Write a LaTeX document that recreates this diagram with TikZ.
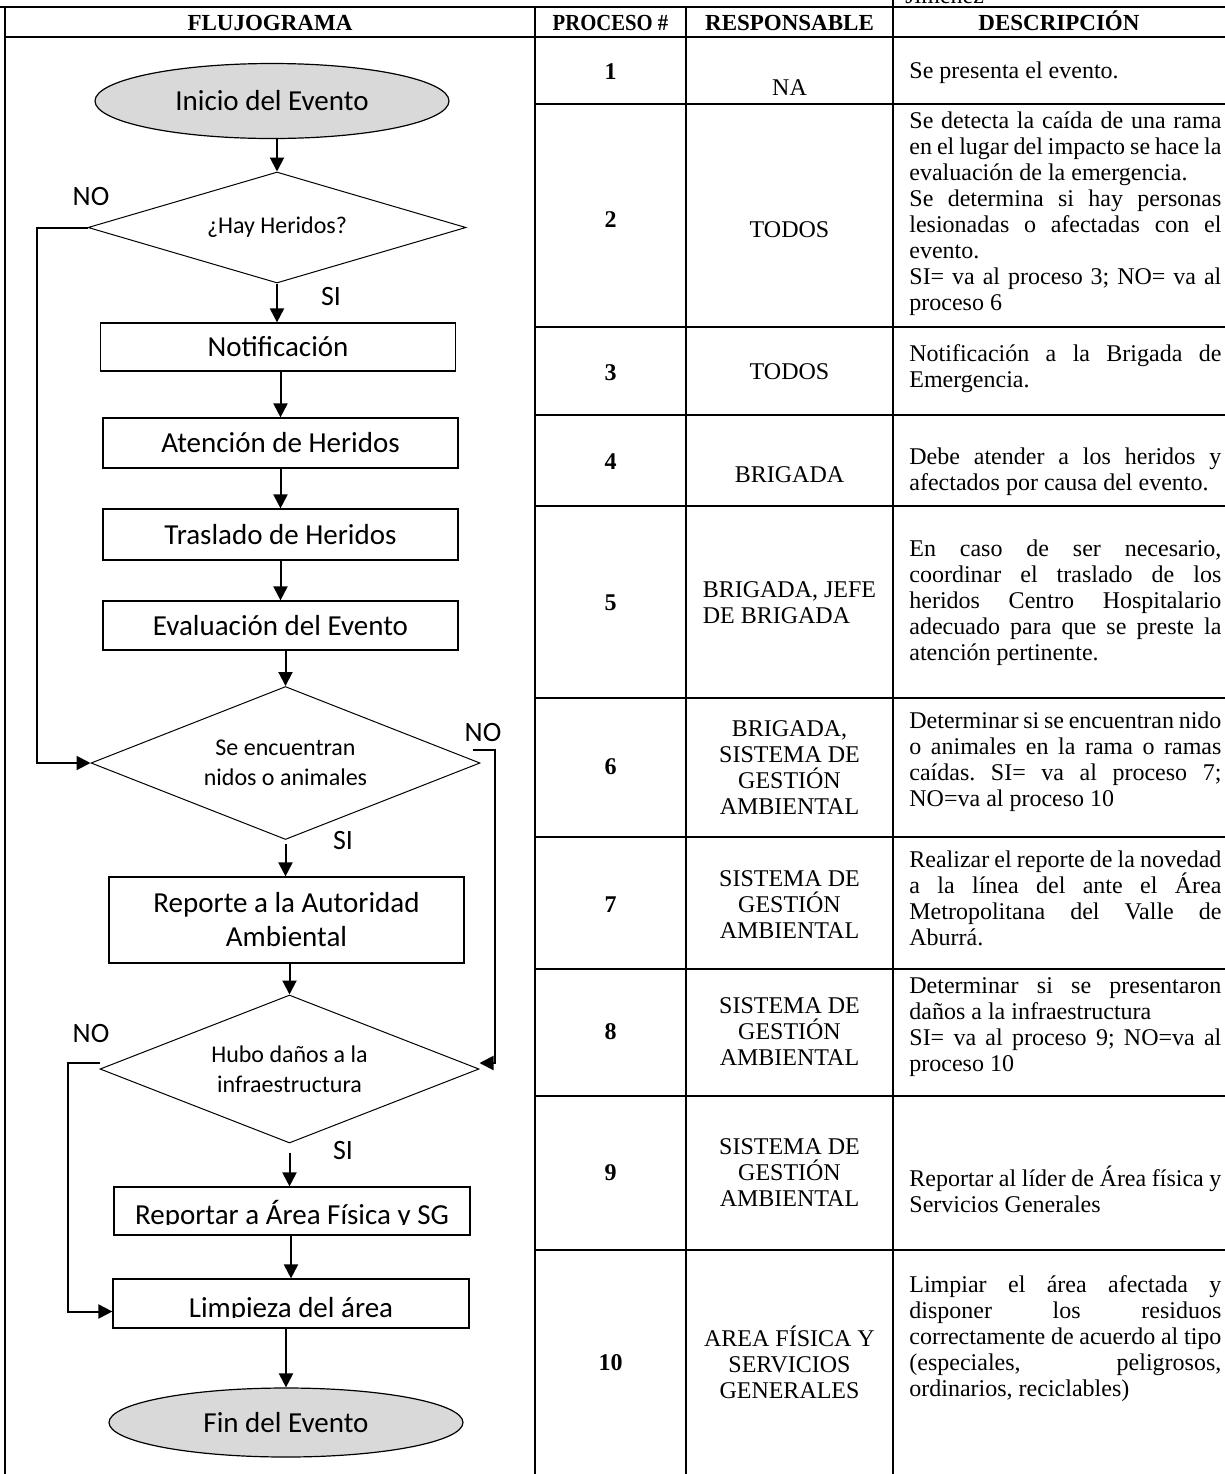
\documentclass[tikz,border=0pt]{standalone}
\usepackage{fontspec}
\setmainfont{Liberation Serif}
\newfontfamily\calibri{Carlito}
\usetikzlibrary{shapes.geometric,arrows.meta}
\definecolor{grisclaro}{RGB}{217,217,217}
\tolerance=10000
\hbadness=10000
\frenchspacing
\tikzset{
  linea/.style={line width=1pt},
  caja/.style={draw, line width=0.6pt, rectangle, minimum width=177.5pt, inner sep=0pt, align=center, font=\calibri\fontsize{14.5}{17}\selectfont},
  terminal/.style={draw, ellipse, fill=grisclaro, line width=0.6pt, minimum width=177pt, font=\calibri\fontsize{14.5}{17}\selectfont},
  decision/.style={draw, diamond, aspect=3.4, inner sep=0pt, line width=0.5pt, align=center, font=\calibri\fontsize{12}{15}\selectfont},
  flecha/.style={-{Triangle[length=7pt,width=7pt]}, line width=1pt},
  etiqueta/.style={font=\calibri\fontsize{14}{16}\selectfont},
  titulo/.style={anchor=base, font=\bfseries\fontsize{11.5}{13}\selectfont},
  num/.style={font=\bfseries\fontsize{12}{13}\selectfont},
  resp/.style={align=center, font=\fontsize{12}{13}\selectfont},
  desc/.style={anchor=west, text width=156pt, align=justify, inner sep=0pt, font=\fontsize{12}{13}\selectfont},
  cortado/.style={caja, path picture={
    \clip ([yshift=5.5pt]path picture bounding box.south west) rectangle (path picture bounding box.north east);
    \node[anchor=base, inner sep=0pt, font=\calibri\fontsize{14.5}{17}\selectfont] at ([yshift=5.5pt]path picture bounding box.south) {#1};}}
}
\begin{document}
\begin{tikzpicture}[x=0.5pt,y=-0.5pt]
\useasboundingbox (0,0) rectangle (1225,1474);
\draw [linea] (0,7)--(1225,7);
\draw [linea] (5,37)--(1225,37);
\draw [linea] (5,7)--(5,1474);
\draw [linea] (535,7)--(535,1474);
\draw [linea] (686,7)--(686,1474);
\draw [linea] (893,0)--(893,1474);
\foreach \y in {104,327,415,506,698,837,969,1096,1250} {\draw [linea] (535,\y)--(1225,\y);}
\node[anchor=base west, inner sep=0pt, font=\fontsize{12}{13}\selectfont] (autor) at (905,3) {Jiménez};

\node[titulo] (hFlujo) at (270,30) {FLUJOGRAMA};
\node[titulo] (hProc) at (610.5,30) {\scalebox{0.9}[1]{PROCESO \#}};
\node[titulo] (hResp) at (789.5,30) {RESPONSABLE};
\node[titulo] (hDesc) at (1059,30) {DESCRIPCIÓN};

\foreach \n/\y in {1/72,2/220,3/373,4/462,5/603,6/767,7/905,8/1032,9/1173,10/1363} {\node[num] (p\n) at (610.5,\y) {\n};}

\node[resp] (r1) at (789.5,88) {NA};
\node[resp] (r2) at (789.5,230) {TODOS};
\node[resp] (r3) at (789.5,372) {TODOS};
\node[resp] (r4) at (789.5,475) {BRIGADA};
\node[resp, align=left] (r5) at (789.5,603) {BRIGADA, JEFE\\DE BRIGADA};
\node[resp] (r6) at (789.5,768) {BRIGADA,\\SISTEMA DE\\GESTIÓN\\AMBIENTAL};
\foreach \n/\y in {7/905,8/1032,9/1173} {\node[resp] (r\n) at (789.5,\y) {SISTEMA DE\\GESTIÓN\\AMBIENTAL};}
\node[resp] (r10) at (789.5,1362) {AREA FÍSICA Y\\SERVICIOS\\GENERALES};

\node[desc] (d1) at (909,73) {Se presenta el evento.};
\node[desc] (d2) at (909,214) {Se detecta la caída de una rama\linebreak en el lugar del impacto se hace la\linebreak evaluación de la emergencia.\\Se determina si hay personas\linebreak lesionadas o afectadas con el\linebreak evento.\\SI= va al proceso 3; NO= va al\linebreak proceso 6};
\node[desc] (d3) at (909,369) {Notificación a la Brigada de\linebreak Emergencia.};
\node[desc] (d4) at (909,472) {Debe atender a los heridos y\linebreak afectados por causa del evento.};
\node[desc] (d5) at (909,603) {En caso de ser necesario,\linebreak coordinar el traslado de los\linebreak heridos Centro Hospitalario\linebreak adecuado para que se preste la\linebreak atención pertinente.};
\node[desc] (d6) at (909,762) {Determinar si se encuentran nido\linebreak o animales en la rama o ramas\linebreak caídas. SI= va al proceso 7;\linebreak NO=va al proceso 10};
\node[desc] (d7) at (909,898) {Realizar el reporte de la novedad\linebreak a la línea del ante el Área\linebreak Metropolitana del Valle de\linebreak Aburrá.};
\node[desc] (d8) at (909,1027) {Determinar si se presentaron\linebreak daños a la infraestructura\\SI= va al proceso 9; NO=va al\linebreak proceso 10};
\node[desc] (d9) at (909,1189) {Reportar al líder de Área física y\linebreak Servicios Generales};
\node[desc] (d10) at (909,1339) {Limpiar el área afectada y\linebreak disponer los residuos\linebreak correctamente de acuerdo al tipo\linebreak (especiales, peligrosos,\linebreak ordinarios, reciclables)};

\node[terminal, minimum height=37.5pt] (inicio) at (272,101) {Inicio del Evento};
\node[decision, minimum width=189pt, minimum height=55.5pt] (dgA) at (277,227.5) {¿Hay Heridos?};
\node[caja, minimum height=24pt] (notif) at (278,347) {Notificación};
\node[caja, minimum height=25pt] (atenc) at (280.5,443) {Atención de Heridos};
\node[caja, minimum height=25.5pt] (trasl) at (280.5,534.5) {Traslado de Heridos};
\node[caja, minimum height=24.5pt] (evalu) at (280.5,625.5) {Evaluación del Evento};
\node[decision, minimum width=194.5pt, minimum height=76.5pt] (dgB) at (285.5,763) {Se encuentran\\nidos o animales};
\node[caja, minimum height=43pt] (repAut) at (286.5,920) {Reporte a la Autoridad\\Ambiental};
\node[decision, minimum width=189.5pt, minimum height=74pt] (dgC) at (289.5,1069) {Hubo daños a la\\infraestructura};
\node[cortado={Reportar a Área Física y SG}, minimum width=178pt, minimum height=24pt] (repArea) at (292,1211) {};
\node[cortado={Limpieza del área}, minimum width=178pt, minimum height=24.5pt] (limp) at (291,1303.5) {};
\node[terminal, minimum height=34.5pt] (fin) at (286,1422.5) {Fin del Evento};

\node[etiqueta] (noA) at (91,197) {NO};
\node[etiqueta] (siA) at (331,297) {SI};
\node[etiqueta] (noB) at (483,732) {NO};
\node[etiqueta] (siB) at (343,840) {SI};
\node[etiqueta] (noC) at (91,1033) {NO};
\node[etiqueta] (siC) at (343,1150) {SI};

\coordinate (izqA) at (37,0);
\coordinate (derB) at (495,0);
\coordinate (izqC) at (68,0);
\draw [flecha] (inicio.south -| dgA.north)--(dgA.north);
\draw [flecha] (dgA.south)--(dgA.south |- notif.north);
\draw [flecha] (atenc.north |- notif.south)--(atenc.north);
\draw [flecha] (trasl.north |- atenc.south)--(trasl.north);
\draw [flecha] (evalu.north |- trasl.south)--(evalu.north);
\draw [flecha] (dgB.north |- evalu.south)--(dgB.north);
\draw [flecha, shorten <=2pt] (dgB.south)--(dgB.south |- repAut.north);
\draw [flecha] (dgC.north |- repAut.south)--(dgC.north);
\draw [flecha, shorten <=4.5pt] (dgC.south)--(dgC.south |- repArea.north);
\draw [flecha] (limp.north |- repArea.south)--(limp.north);
\draw [flecha] (fin.north |- limp.south)--(fin.north);
\draw [flecha] (dgA.west)--(dgA.west -| izqA) |- (dgB.west);
\draw [flecha] ([xshift=-4pt,yshift=6.5pt]dgB.east)--([yshift=6.5pt]dgB.east -| derB) |- ([yshift=3pt]dgC.east);
\draw [flecha] ([yshift=3pt]dgC.west)--([yshift=3pt]dgC.west -| izqC) |- ([yshift=-4pt]limp.west);
\end{tikzpicture}
\end{document}
